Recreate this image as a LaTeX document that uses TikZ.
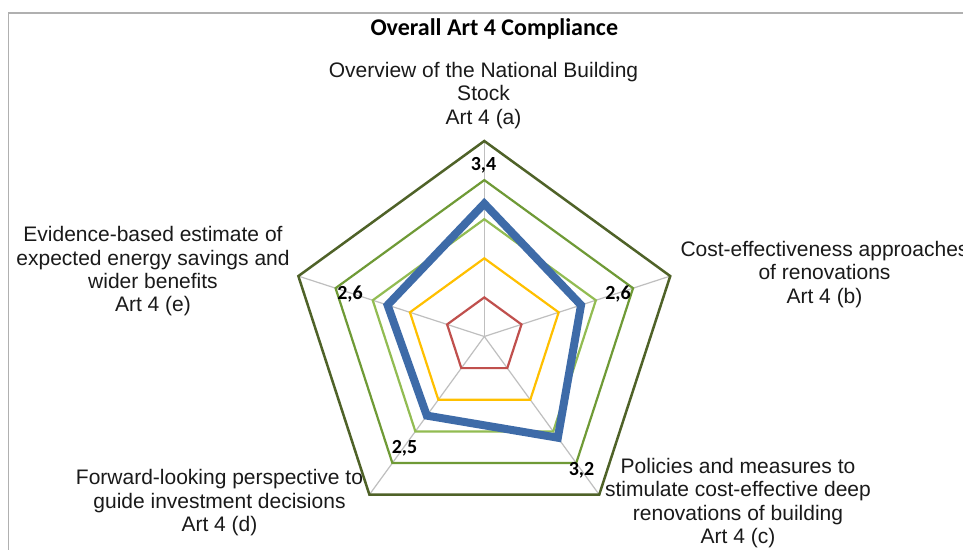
\documentclass[tikz,border=0pt]{standalone}
\usepackage{fontspec}
\setmainfont{Liberation Sans}
\newfontfamily\calib{Carlito}
\definecolor{frameC}{HTML}{B0B0B0}
\definecolor{spokeC}{HTML}{BFBFBF}
\definecolor{redC}{HTML}{C0504D}
\definecolor{yelC}{HTML}{FFC000}
\definecolor{lgreenC}{HTML}{92BC52}
\definecolor{mgreenC}{HTML}{6F9A36}
\definecolor{dgreenC}{HTML}{4F6228}
\definecolor{blueC}{HTML}{3E6BA8}
\definecolor{textC}{HTML}{1A1A1A}
\tikzset{
  axislabel/.style={inner sep=0pt, anchor=base, align=center, text=textC,
    font=\fontsize{21}{23.3}\selectfont},
  datalabel/.style={inner sep=0pt, anchor=base, text=black,
    font=\calib\bfseries\fontsize{20}{22}\selectfont},
  ring/.style={line width=2.2pt, line join=miter},
  spoke/.style={draw=spokeC, line width=1.2pt},
}
\begin{document}
\begin{tikzpicture}[x=1pt,y=-1pt]
\path[use as bounding box] (0,0) rectangle (963,549);
\clip (0,0) rectangle (963,549);
\fill[white] (0,0) rectangle (963,549);
% frame
\draw[frameC, line width=1.5pt] (8.5,600) -- (8.5,13) -- (1000,13);
% title
\node[inner sep=0pt, anchor=base, font=\calib\bfseries\fontsize{24}{28}\selectfont] (title) at (494.3,35.7) {Overall Art 4 Compliance};
\coordinate (O) at (484.3,336.5);
\begin{scope}[shift={(O)}]
  \foreach \i/\ang in {a/-90,b/-18,c/54,d/126,e/198}{
    \coordinate (v\i) at (\ang:195.5);
  }
  \foreach \i in {a,b,c,d,e}{ \draw[spoke] (O) -- (v\i); }
  \draw[ring, redC]    (-90:39.1) -- (-18:39.1) -- (54:39.1) -- (126:39.1) -- (198:39.1) -- cycle;
  \draw[ring, yelC]    (-90:78.2) -- (-18:78.2) -- (54:78.2) -- (126:78.2) -- (198:78.2) -- cycle;
  \draw[ring, lgreenC] (-90:117.3) -- (-18:117.3) -- (54:117.3) -- (126:117.3) -- (198:117.3) -- cycle;
  \draw[ring, mgreenC] (-90:156.4) -- (-18:156.4) -- (54:156.4) -- (126:156.4) -- (198:156.4) -- cycle;
  \draw[ring, dgreenC, line width=2.5pt] (va) -- (vb) -- (vc) -- (vd) -- (ve) -- cycle;
  \draw[blueC, line width=8pt, line join=miter] (-90:132.9) -- (-18:101.7) -- (54:125.1) -- (126:97.8) -- (198:101.7) -- cycle;
\end{scope}
% data labels
\node[datalabel] (la) at (483.5,170.7) {3,4};
\node[datalabel] (lb) at (618,299) {2,6};
\node[datalabel] (lc) at (581.5,475) {3,2};
\node[datalabel] (ld) at (404.5,453.3) {2,5};
\node[datalabel] (le) at (350,299) {2,6};
% axis labels (anchor = baseline of the last line)
\node[axislabel] (ta) at (483.5,124) {Overview of the National Building\\Stock\\Art 4 (a)};
\node[axislabel] (tb) at (824.5,303) {Cost-effectiveness approaches\\of renovations\\Art 4 (b)};
\node[axislabel] (tc) at (738,543.5) {Policies and measures to\\stimulate cost-effective deep\\renovations of building\\Art 4 (c)};
\node[axislabel] (td) at (219.5,531.5) {Forward-looking perspective to\\guide investment decisions\\Art 4 (d)};
\node[axislabel] (te) at (153,311.7) {Evidence-based estimate of\\expected energy savings and\\wider benefits\\Art 4 (e)};
\end{tikzpicture}
\end{document}
